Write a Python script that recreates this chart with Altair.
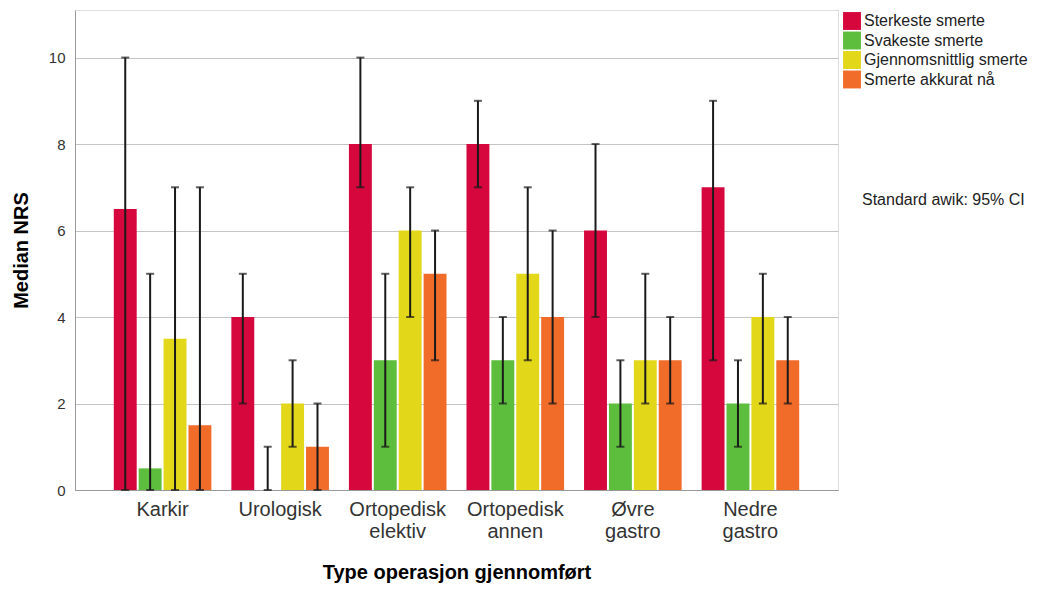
import altair as alt
import pandas as pd

categories = ["Karkir", "Urologisk", "Ortopedisk elektiv", "Ortopedisk annen", "Øvre gastro", "Nedre gastro"]
series = ["Sterkeste smerte", "Svakeste smerte", "Gjennomsnittlig smerte", "Smerte akkurat nå"]
colors = ["#D5073D", "#5CBE3C", "#E3D71A", "#F16B29"]

median_sterkeste = [6.5, 4, 8, 8, 6, 7]
low_sterkeste = [0, 2, 7, 7, 4, 3]
high_sterkeste = [10, 5, 10, 9, 8, 9]

median_svakeste = [0.5, 0, 3, 3, 2, 2]
low_svakeste = [0, 0, 1, 2, 1, 1]
high_svakeste = [5, 1, 5, 4, 3, 3]

median_snitt = [3.5, 2, 6, 5, 3, 4]
low_snitt = [0, 1, 4, 3, 2, 2]
high_snitt = [7, 3, 7, 7, 5, 5]

median_naa = [1.5, 1, 5, 4, 3, 3]
low_naa = [0, 0, 3, 2, 2, 2]
high_naa = [7, 2, 6, 6, 4, 4]

y_ticks = [0, 2, 4, 6, 8, 10]
note_text = "Standard awik: 95% CI"

medians = [median_sterkeste, median_svakeste, median_snitt, median_naa]
lows = [low_sterkeste, low_svakeste, low_snitt, low_naa]
highs = [high_sterkeste, high_svakeste, high_snitt, high_naa]

rows = []
for si, s in enumerate(series):
    for ci, c in enumerate(categories):
        rows.append({"kat": c, "serie": s, "median": medians[si][ci],
                     "lo": lows[si][ci], "hi": highs[si][ci]})
df = pd.DataFrame(rows)

FONT = "Liberation Sans"

x_enc = alt.X("kat:N", sort=categories,
              scale=alt.Scale(paddingInner=0.17, paddingOuter=0.33),
              axis=alt.Axis(title="Type operasjon gjennomført", labelAngle=0,
                            labelExpr="split(datum.label, ' ')",
                            labelFontSize=20, labelLineHeight=22, labelPadding=9,
                            labelColor="#333333", ticks=False, domainColor="#999999",
                            titleFontSize=20, titleFontWeight="bold", titlePadding=21,
                            titleColor="#000000"))
xoff = alt.XOffset("serie:N", sort=series, scale=alt.Scale(paddingInner=0.08))
y_scale = alt.Scale(domain=[0, 11.1], nice=False)

base = alt.Chart(df)

bars = base.mark_bar().encode(
    x=x_enc,
    xOffset=xoff,
    y=alt.Y("median:Q", scale=y_scale,
            axis=alt.Axis(title="Median NRS", values=y_ticks, ticks=False,
                          domainColor="#999999", gridColor="#C4C4C4",
                          labelFontSize=15, labelColor="#333333", labelPadding=10,
                          titleFontSize=20, titleFontWeight="bold", titlePadding=17,
                          titleColor="#000000")),
    color=alt.Color("serie:N", sort=series,
                    scale=alt.Scale(domain=series, range=colors),
                    legend=alt.Legend(title=None, orient="none", legendX=768, legendY=2,
                                      symbolType="square", symbolSize=320,
                                      symbolStrokeWidth=0, labelFontSize=16,
                                      labelColor="#222222", labelOffset=3,
                                      labelLimit=0, rowPadding=1.5, padding=0)),
)

rules = base.mark_rule(color="#1a1a1a", strokeWidth=2).encode(
    x=alt.X("kat:N", sort=categories),
    xOffset=xoff,
    y=alt.Y("lo:Q", scale=y_scale),
    y2="hi:Q",
)

caps_lo = base.mark_tick(color="#1a1a1a", thickness=2, size=8, orient="horizontal").encode(
    x=alt.X("kat:N", sort=categories),
    xOffset=xoff,
    y=alt.Y("lo:Q", scale=y_scale),
)
caps_hi = base.mark_tick(color="#1a1a1a", thickness=2, size=8, orient="horizontal").encode(
    x=alt.X("kat:N", sort=categories),
    xOffset=xoff,
    y=alt.Y("hi:Q", scale=y_scale),
)

note = alt.Chart(pd.DataFrame({"t": [note_text]})).mark_text(
    align="left", baseline="middle", fontSize=16, color="#222222", font=FONT
).encode(x=alt.value(787), y=alt.value(190), text="t:N")

chart = alt.layer(bars, rules, caps_lo, caps_hi, note).properties(
    width=763, height=480,
    autosize=alt.AutoSizeParams(type="none"),
    padding={"left": 67, "top": 2, "right": 203, "bottom": 93},
    background="white",
).configure_view(strokeWidth=0).configure(font=FONT)

chart.save("out.html", embed_options={"renderer": "svg", "actions": False})
